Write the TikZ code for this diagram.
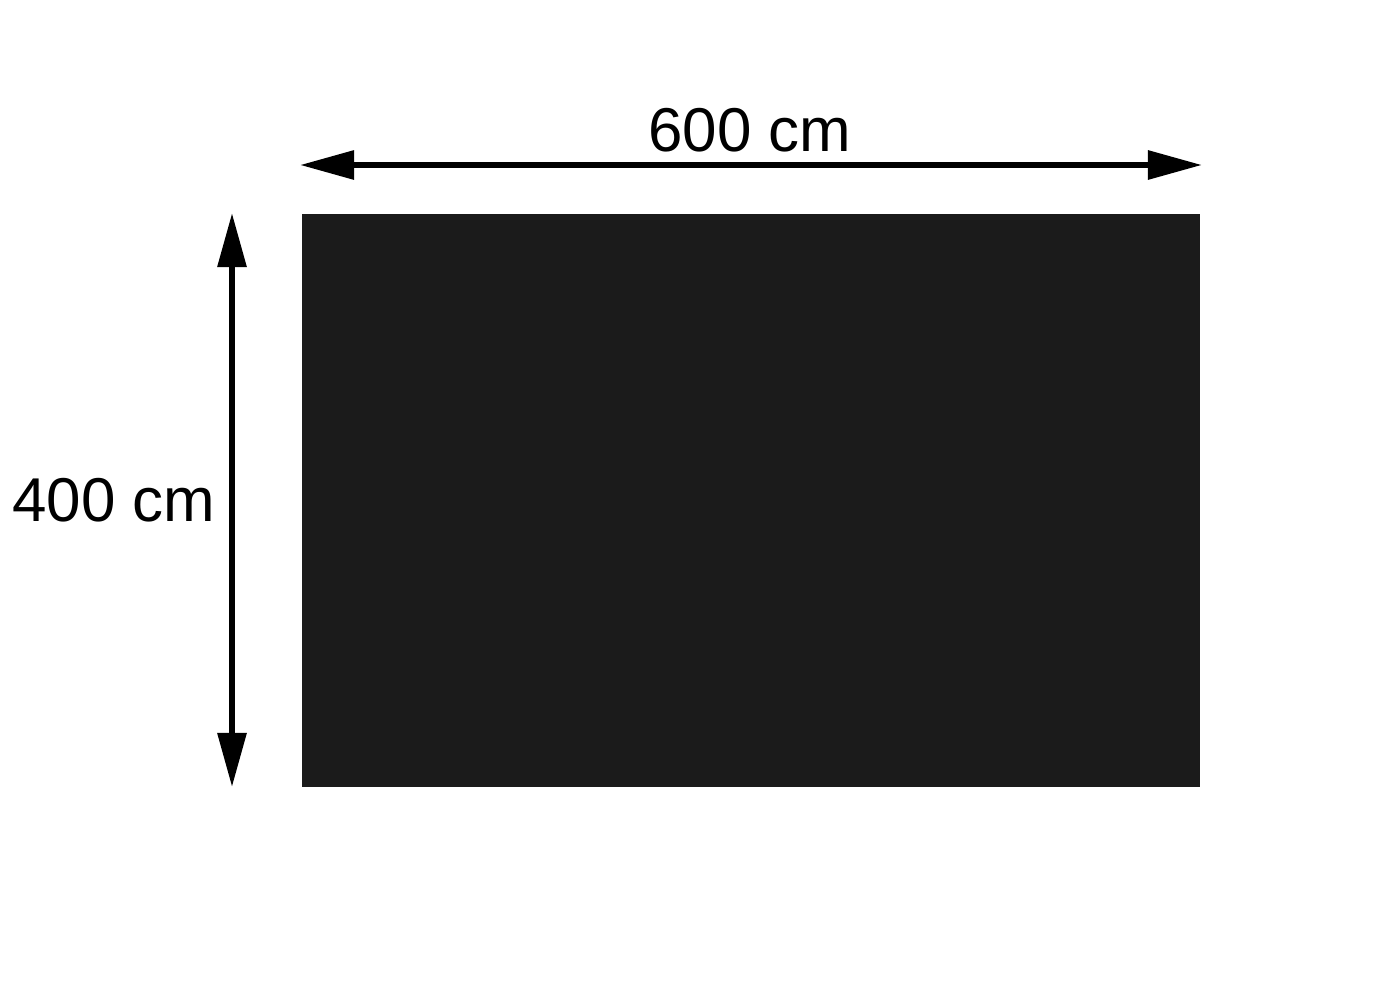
\documentclass[tikz,border=0pt]{standalone}
\usepackage{fontspec}
\setmainfont{Liberation Sans}
\usetikzlibrary{arrows.meta}
\definecolor{panelfill}{HTML}{1B1B1B}
\tikzset{
  dimline/.style={line width=0.06cm, {Triangle[length=0.54cm,width=0.28cm]}-{Triangle[length=0.54cm,width=0.28cm]}},
  dimlabel/.style={font=\fontsize{17.6pt}{21pt}\selectfont, inner sep=0pt}
}
\begin{document}
\begin{tikzpicture}[x=0.01cm,y=-0.01cm]
\useasboundingbox (0,0) rectangle (1400,1000);
\node[fill=panelfill, draw=none, inner sep=0pt, minimum width=8.98cm, minimum height=5.73cm] (panel) at (751,500.5) {};
\coordinate (hl) at (300,165);
\coordinate (hr) at (1202,165);
\coordinate (vt) at (232,213);
\coordinate (vb) at (232,787);
\draw[dimline] (hl) -- (hr);
\draw[dimline] (vt) -- (vb);
\node[dimlabel] (wlabel) at (750,130) {600 cm};
\node[dimlabel] (hlabel) at (114,500) {400 cm};
\end{tikzpicture}
\end{document}
